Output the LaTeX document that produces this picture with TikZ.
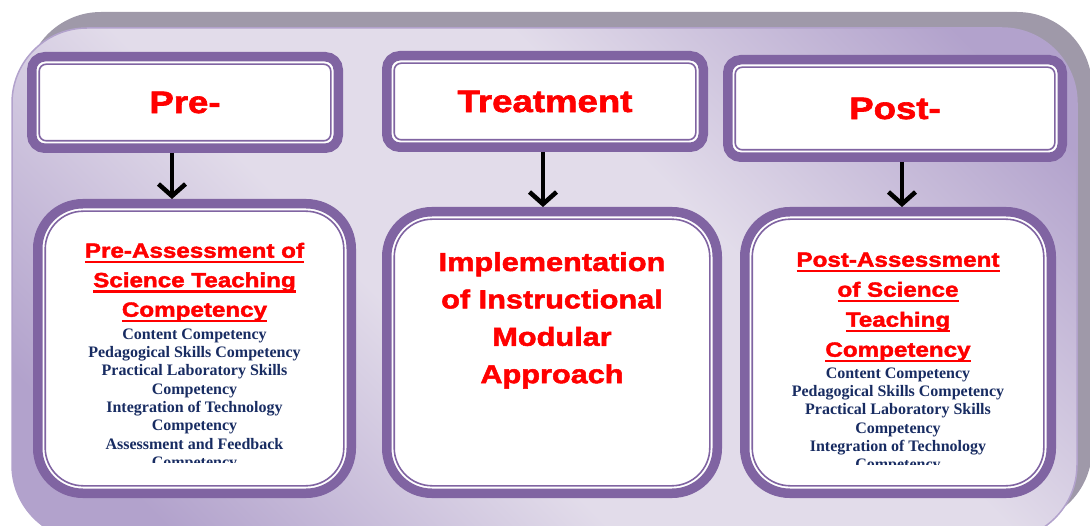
\documentclass[tikz,border=0pt]{standalone}
\usepackage{fontspec}
\setmainfont{Liberation Serif}
\newfontfamily\headfont[FakeStretch=1.18,FakeBold=2]{Liberation Sans Bold}
\usetikzlibrary{arrows.meta}

% thick underline, drawn in the current text colour
\newsavebox\ulbox
\newcommand{\thickul}[1]{\sbox\ulbox{#1}%
  \rlap{\rule[-5.6pt]{\wd\ulbox}{2.3pt}}\usebox\ulbox}

\definecolor{boxpurple}{RGB}{128,100,162}
\definecolor{listblue}{RGB}{24,44,98}
\definecolor{bglight}{RGB}{226,220,234}
\definecolor{bgdark}{RGB}{178,162,204}
\definecolor{bgshadow}{RGB}{159,153,169}

\pgfdeclarehorizontalshading{panel}{100bp}{color(0bp)=(bgdark); color(22bp)=(bgdark);
  color(42bp)=(bglight); color(60bp)=(bglight); color(80bp)=(bgdark); color(100bp)=(bgdark)}

\tikzset{
  box/.style={draw=boxpurple, line width=9.5pt, fill=white, inner sep=0pt},
  headbox/.style={box, rounded corners=13pt, text=red,
    font=\headfont\fontsize{31}{37}\selectfont},
  stagebox/.style={box, rounded corners=45pt},
  inner line/.style={draw=boxpurple, line width=1.6pt},
  flow/.style={line width=4.5pt, -{Straight Barb[length=12pt,width=27pt]},
    preaction={draw=black!35, -{Straight Barb[length=12pt,width=27pt]},
      transform canvas={shift={(-1.5pt,-1.5pt)}}}},
  title/.style={text=red, align=center, anchor=base},
  items/.style={text=listblue, align=center, anchor=base,
    font=\bfseries\fontsize{16}{18.3}\selectfont},
}

\begin{document}
\begin{tikzpicture}[x=1pt, y=-1pt]
  \useasboundingbox (0,0) rectangle (1090,526);
  \clip (0,0) rectangle (1090,526);

  % panel behind the stages
  \fill[bgshadow, rounded corners=75pt] (26,12) rectangle (1092,524);
  \shade[shading=panel, shading angle=45, draw=bgdark, line width=1.5pt,
    rounded corners=75pt] (12,28) rectangle (1077,540);

  % stage headers
  \node[headbox, minimum width=306.5pt, minimum height=91.5pt] (pre) at (185,102.5) {Pre-};
  \node[headbox, minimum width=316.5pt, minimum height=91.5pt] (treat) at (545,101.5) {Treatment};
  \node[headbox, minimum width=334.5pt, minimum height=97.5pt] (post) at (895,108.5) {Post-};

  % stage contents
  \node[stagebox, minimum width=313.5pt, minimum height=289.5pt] (preA) at (194.5,348.5) {};
  \node[stagebox, minimum width=330.5pt, minimum height=281.5pt] (impl) at (552,352.5) {};
  \node[stagebox, minimum width=306.5pt, minimum height=281.5pt] (postA) at (898,352.5) {};

  \foreach \n/\r in {pre/7,treat/7,post/7,preA/38,impl/38,postA/38}
    \draw[inner line, rounded corners=\r pt] ([shift={(12.2,12.2)}]\n.north west)
      rectangle ([shift={(-12.2,-12.2)}]\n.south east);

  \draw[flow] ([xshift=-13pt]pre.south) -- ([xshift=-13pt]pre.south |- preA.north);
  \draw[flow] ([xshift=-2pt]treat.south) -- ([xshift=-2pt]treat.south |- impl.north);
  \draw[flow] ([xshift=7pt]post.south) -- ([xshift=7pt]post.south |- postA.north);

  % texts sit on the baseline of their last line
  \node[title, font=\headfont\fontsize{20.5}{29.5}\selectfont] (preAtitle)
    at ([yshift=-117.7pt]preA.north)
    {\thickul{Pre-Assessment of}\\\thickul{Science Teaching}\\\thickul{Competency}};
  \begin{scope}
    \clip (40,320) rectangle (350,462.5);
    \node[items] (preAlist) at ([yshift=-268.4pt]preA.north)
      {Content Competency\\Pedagogical Skills Competency\\Practical Laboratory Skills\\Competency\\
       Integration of Technology\\Competency\\Assessment and Feedback\\Competency};
  \end{scope}

  \node[title, font=\headfont\fontsize{26}{37.4}\selectfont] (impltext)
    at ([yshift=-176.2pt]impl.north)
    {Implementation\\of Instructional\\Modular\\Approach};

  \node[title, font=\headfont\fontsize{20.5}{30}\selectfont] (postAtitle)
    at ([yshift=-149.7pt]postA.north)
    {\thickul{Post-Assessment}\\\thickul{of Science}\\\thickul{Teaching}\\\thickul{Competency}};
  \begin{scope}
    \clip (750,360) rectangle (1050,464);
    \node[items] (postAlist) at ([yshift=-262.8pt]postA.north)
      {Content Competency\\Pedagogical Skills Competency\\Practical Laboratory Skills\\Competency\\
       Integration of Technology\\Competency};
  \end{scope}
\end{tikzpicture}
\end{document}
